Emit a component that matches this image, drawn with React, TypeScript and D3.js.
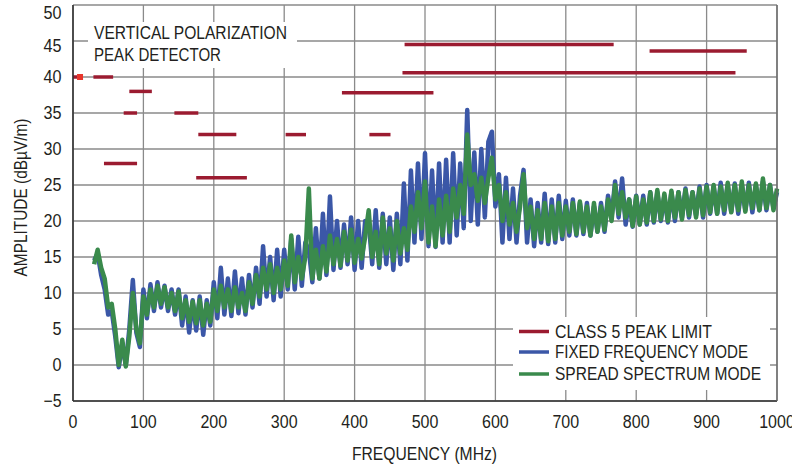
import React from 'react';
import * as d3 from 'd3';

// Sampling grid of the traces (MHz)
const FREQ_START = 30;
const FREQ_STEP = 5;

// FIXED FREQUENCY MODE (dBµV/m), one value every 5 MHz from 30 MHz to 1000 MHz
const FIXED_FREQUENCY: number[] = [
  14.5, 15.5, 12.5, 10.5, 7.0, 7.5, 4.0, -0.3, 3.0, 0.0,
  5.0, 11.8, 4.5, 2.5, 10.5, 6.5, 11.2, 7.5, 11.5, 8.0,
  11.0, 7.5, 10.5, 7.0, 10.5, 5.5, 9.5, 4.5, 9.0, 4.8,
  9.5, 4.2, 9.0, 5.5, 11.5, 6.5, 13.5, 7.0, 12.0, 6.8,
  13.0, 7.2, 12.0, 7.0, 12.5, 8.0, 13.5, 8.5, 16.5, 9.5,
  15.0, 9.0, 16.0, 9.5, 16.0, 10.5, 17.5, 10.5, 17.8, 11.0,
  17.0, 16.0, 11.5, 19.0, 12.0, 21.0, 12.5, 23.4, 13.2, 20.0,
  13.5, 19.5, 14.0, 20.5, 13.2, 20.0, 13.5, 20.0, 20.0, 14.0,
  21.5, 13.5, 21.0, 14.0, 20.5, 13.2, 21.0, 14.0, 25.2, 14.5,
  27.0, 17.0, 28.0, 17.5, 29.4, 16.5, 27.0, 16.4, 28.0, 17.0,
  28.5, 17.0, 29.4, 18.0, 28.0, 19.0, 35.4, 20.0, 29.5, 19.5,
  30.0, 20.5, 31.0, 32.4, 22.0, 26.5, 17.0, 26.0, 17.5, 24.5,
  17.0, 23.5, 27.1, 17.0, 23.0, 16.5, 22.5, 17.0, 23.8, 16.8,
  23.0, 17.0, 23.5, 17.5, 22.8, 18.0, 23.0, 18.0, 22.5, 18.2,
  22.5, 18.0, 22.0, 18.5, 22.5, 18.5, 23.5, 20.5, 25.5, 20.5,
  25.9, 19.5, 23.0, 19.2, 23.5, 19.5, 23.5, 19.5, 24.0, 19.8,
  24.0, 20.0, 23.5, 19.8, 24.0, 20.0, 24.0, 20.5, 24.5, 20.5,
  24.0, 20.8, 24.8, 20.5, 25.0, 21.0, 24.8, 21.0, 25.3, 21.0,
  25.0, 21.3, 25.2, 21.0, 25.0, 21.5, 25.3, 21.2, 25.0, 21.5,
  25.5, 21.5, 25.0, 21.8, 24.0,
];

// SPREAD SPECTRUM MODE (dBµV/m), same grid
const SPREAD_SPECTRUM: number[] = [
  14.0, 16.0, 13.5, 12.0, 8.0, 8.5, 5.0, 0.0, 3.5, -0.2,
  4.0, 10.0, 5.0, 3.0, 9.5, 7.0, 10.5, 8.0, 11.0, 8.5,
  10.8, 8.0, 10.0, 7.5, 10.2, 6.5, 9.0, 6.0, 8.8, 5.8,
  9.0, 5.5, 8.5, 6.0, 10.5, 7.5, 11.0, 8.0, 10.5, 7.5,
  10.8, 8.0, 10.0, 7.5, 11.5, 8.5, 12.5, 9.5, 13.5, 10.5,
  14.0, 10.0, 13.5, 10.5, 14.5, 11.0, 18.0, 11.5, 15.0, 12.0,
  15.0, 24.5, 12.0, 16.0, 12.0, 16.5, 13.0, 18.0, 14.0, 17.5,
  13.8, 18.5, 14.5, 18.8, 14.2, 17.5, 14.8, 17.8, 21.5, 15.0,
  18.5, 14.0, 20.5, 15.5, 19.0, 14.5, 20.0, 15.5, 19.0, 16.0,
  22.0, 18.5, 24.0, 19.0, 25.5, 17.0, 22.0, 16.5, 23.0, 18.0,
  23.5, 18.5, 24.5, 20.5, 25.0, 21.0, 32.0, 25.0, 26.5, 22.8,
  26.0, 22.5, 26.0, 28.8, 23.0, 25.0, 20.0, 24.0, 19.5, 22.5,
  18.5, 22.0, 26.5, 19.0, 22.0, 17.5, 21.5, 17.5, 22.5, 17.2,
  22.0, 17.5, 22.5, 18.0, 22.0, 18.5, 22.5, 18.2, 22.7, 18.5,
  22.0, 18.0, 22.5, 18.5, 22.0, 18.8, 23.0, 20.0, 25.0, 21.0,
  24.0, 20.5, 23.0, 19.3, 23.4, 19.5, 23.0, 19.8, 24.0, 20.0,
  24.3, 20.2, 23.8, 20.0, 24.2, 20.5, 24.0, 20.2, 24.3, 20.8,
  24.0, 20.5, 24.5, 20.8, 24.8, 21.2, 25.0, 21.0, 24.8, 21.5,
  25.3, 21.2, 25.0, 21.5, 25.5, 21.3, 25.0, 21.8, 25.2, 21.5,
  25.9, 21.8, 25.0, 21.5, 24.5,
];

// CLASS 5 PEAK LIMIT segments: [start MHz, end MHz, level dBµV/m]
const LIMIT_SEGMENTS: [number, number, number][] = [
  [0, 6, 40],
  [29, 57, 40],
  [80, 112, 38],
  [72, 91, 35],
  [144, 178, 35],
  [178, 232, 32],
  [44, 91, 28],
  [175, 247, 26],
  [302, 331, 32],
  [421, 451, 32],
  [382, 512, 37.8],
  [471, 768, 44.5],
  [819, 957, 43.6],
  [468, 941, 40.6],
];
const LIMIT_MARKERS: [number, number][] = [[10, 40]];

const X_TICKS = [0, 100, 200, 300, 400, 500, 600, 700, 800, 900, 1000];
const Y_TICKS = [-5, 0, 5, 10, 15, 20, 25, 30, 35, 40, 45, 50];
const TITLE_LINES = ['VERTICAL POLARIZATION', 'PEAK DETECTOR'];
const LEGEND_LABELS = ['CLASS 5 PEAK LIMIT', 'FIXED FREQUENCY MODE', 'SPREAD SPECTRUM MODE'];
const X_TITLE = 'FREQUENCY (MHz)';
const Y_TITLE = 'AMPLITUDE (dBµV/m)';

const FONT = "'Liberation Sans', Arial, sans-serif";
const RED = '#9b1b30';
const BLUE = '#3b57a7';
const GREEN = '#3a8a4c';
const GRID = '#8a8a8a';
const TEXT = '#231f20';

// condensed text: width forced to what the reference shows
function CText(props: {
  x: number;
  y: number;
  len: number;
  anchor?: 'start' | 'middle' | 'end';
  dy?: string;
  transform?: string;
  children: React.ReactNode;
}) {
  const { x, y, len, anchor = 'start', dy, transform, children } = props;
  return (
    <text
      x={x}
      y={y}
      dy={dy}
      transform={transform}
      textAnchor={anchor}
      fontSize={18}
      fill={TEXT}
      textLength={len}
      lengthAdjust="spacingAndGlyphs"
    >
      {children}
    </text>
  );
}

export default function App() {
  const W = 792;
  const H = 467;
  const x = d3.scaleLinear().domain([0, 1000]).range([73, 777]);
  const y = d3.scaleLinear().domain([-5, 50]).range([401, 5]);
  const line = d3
    .line<number>()
    .x((_, i) => x(FREQ_START + i * FREQ_STEP))
    .y((d) => y(d));

  const legendColors = [RED, BLUE, GREEN];
  const legendWidths = [157, 193, 206];
  const titleWidths = [193, 127];
  const labelNudge = (v: number) => (v === 50 ? 7.5 : v === 45 ? 4.8 : 0);
  const fmt = (v: number) => (v < 0 ? '\u2212' + Math.abs(v) : String(v));

  return (
    <svg
      width={W}
      height={H}
      style={{ position: 'absolute', left: 0, top: 0, background: '#fff' }}
      fontFamily={FONT}
    >
      <rect x={0} y={0} width={W} height={H} fill="#fff" />
      {/* grid */}
      {Y_TICKS.map((v) => (
        <line key={'gy' + v} x1={x(0)} x2={x(1000)} y1={y(v)} y2={y(v)} stroke={GRID} strokeWidth={1.3} />
      ))}
      {X_TICKS.map((v) => (
        <line key={'gx' + v} x1={x(v)} x2={x(v)} y1={y(50)} y2={y(-5)} stroke={GRID} strokeWidth={1.3} />
      ))}
      {/* boxes covering grid */}
      <rect x={88} y={22} width={209} height={46} fill="#fff" />
      <rect x={513} y={317} width={257} height={73} fill="#fff" />

      {/* traces */}
      <path d={line(FIXED_FREQUENCY) || ''} fill="none" stroke={BLUE} strokeWidth={4.5} strokeLinejoin="round" />
      <path d={line(SPREAD_SPECTRUM) || ''} fill="none" stroke={GREEN} strokeWidth={4.5} strokeLinejoin="round" />

      {/* limits */}
      {LIMIT_SEGMENTS.map(([a, b, v], i) => (
        <line key={'lim' + i} x1={x(a)} x2={x(b)} y1={y(v)} y2={y(v)} stroke={RED} strokeWidth={3.5} />
      ))}
      {LIMIT_MARKERS.map(([f, v], i) => (
        <rect key={'mk' + i} x={x(f) - 3} y={y(v) - 3} width={6} height={6} fill="#e8352b" />
      ))}

      {/* axes */}
      <line x1={x(0)} x2={x(0)} y1={y(50)} y2={y(-5)} stroke="#333" strokeWidth={1.6} />
      <line x1={x(0)} x2={x(1000)} y1={y(-5)} y2={y(-5)} stroke="#333" strokeWidth={1.6} />
      <line x1={x(1000)} x2={x(1000)} y1={y(50)} y2={y(-5)} stroke="#666" strokeWidth={1.3} />

      {/* tick labels */}
      {Y_TICKS.map((v) => (
        <CText key={'ty' + v} x={61.5} y={y(v) + labelNudge(v)} dy="0.35em" anchor="end" len={fmt(v).length * 9}>
          {fmt(v)}
        </CText>
      ))}
      {X_TICKS.map((v) => (
        <CText key={'tx' + v} x={x(v)} y={428} anchor="middle" len={fmt(v).length * 8.9}>
          {fmt(v)}
        </CText>
      ))}

      {/* axis titles */}
      <CText x={424.5} y={460} anchor="middle" len={145}>
        {X_TITLE}
      </CText>
      <CText x={0} y={0} anchor="middle" len={158} transform="translate(26.5,197.5) rotate(-90)">
        {Y_TITLE}
      </CText>

      {/* annotation */}
      {TITLE_LINES.map((t, i) => (
        <CText key={'tl' + i} x={94} y={39 + i * 22} len={titleWidths[i]}>
          {t}
        </CText>
      ))}

      {/* legend */}
      {LEGEND_LABELS.map((t, i) => {
        const ly = [331.5, 352, 374][i];
        return (
          <g key={'lg' + i}>
            <line x1={519} x2={549} y1={ly} y2={ly} stroke={legendColors[i]} strokeWidth={3.5} />
            <CText x={555} y={ly + 6.3} len={legendWidths[i]}>
              {t}
            </CText>
          </g>
        );
      })}
    </svg>
  );
}
